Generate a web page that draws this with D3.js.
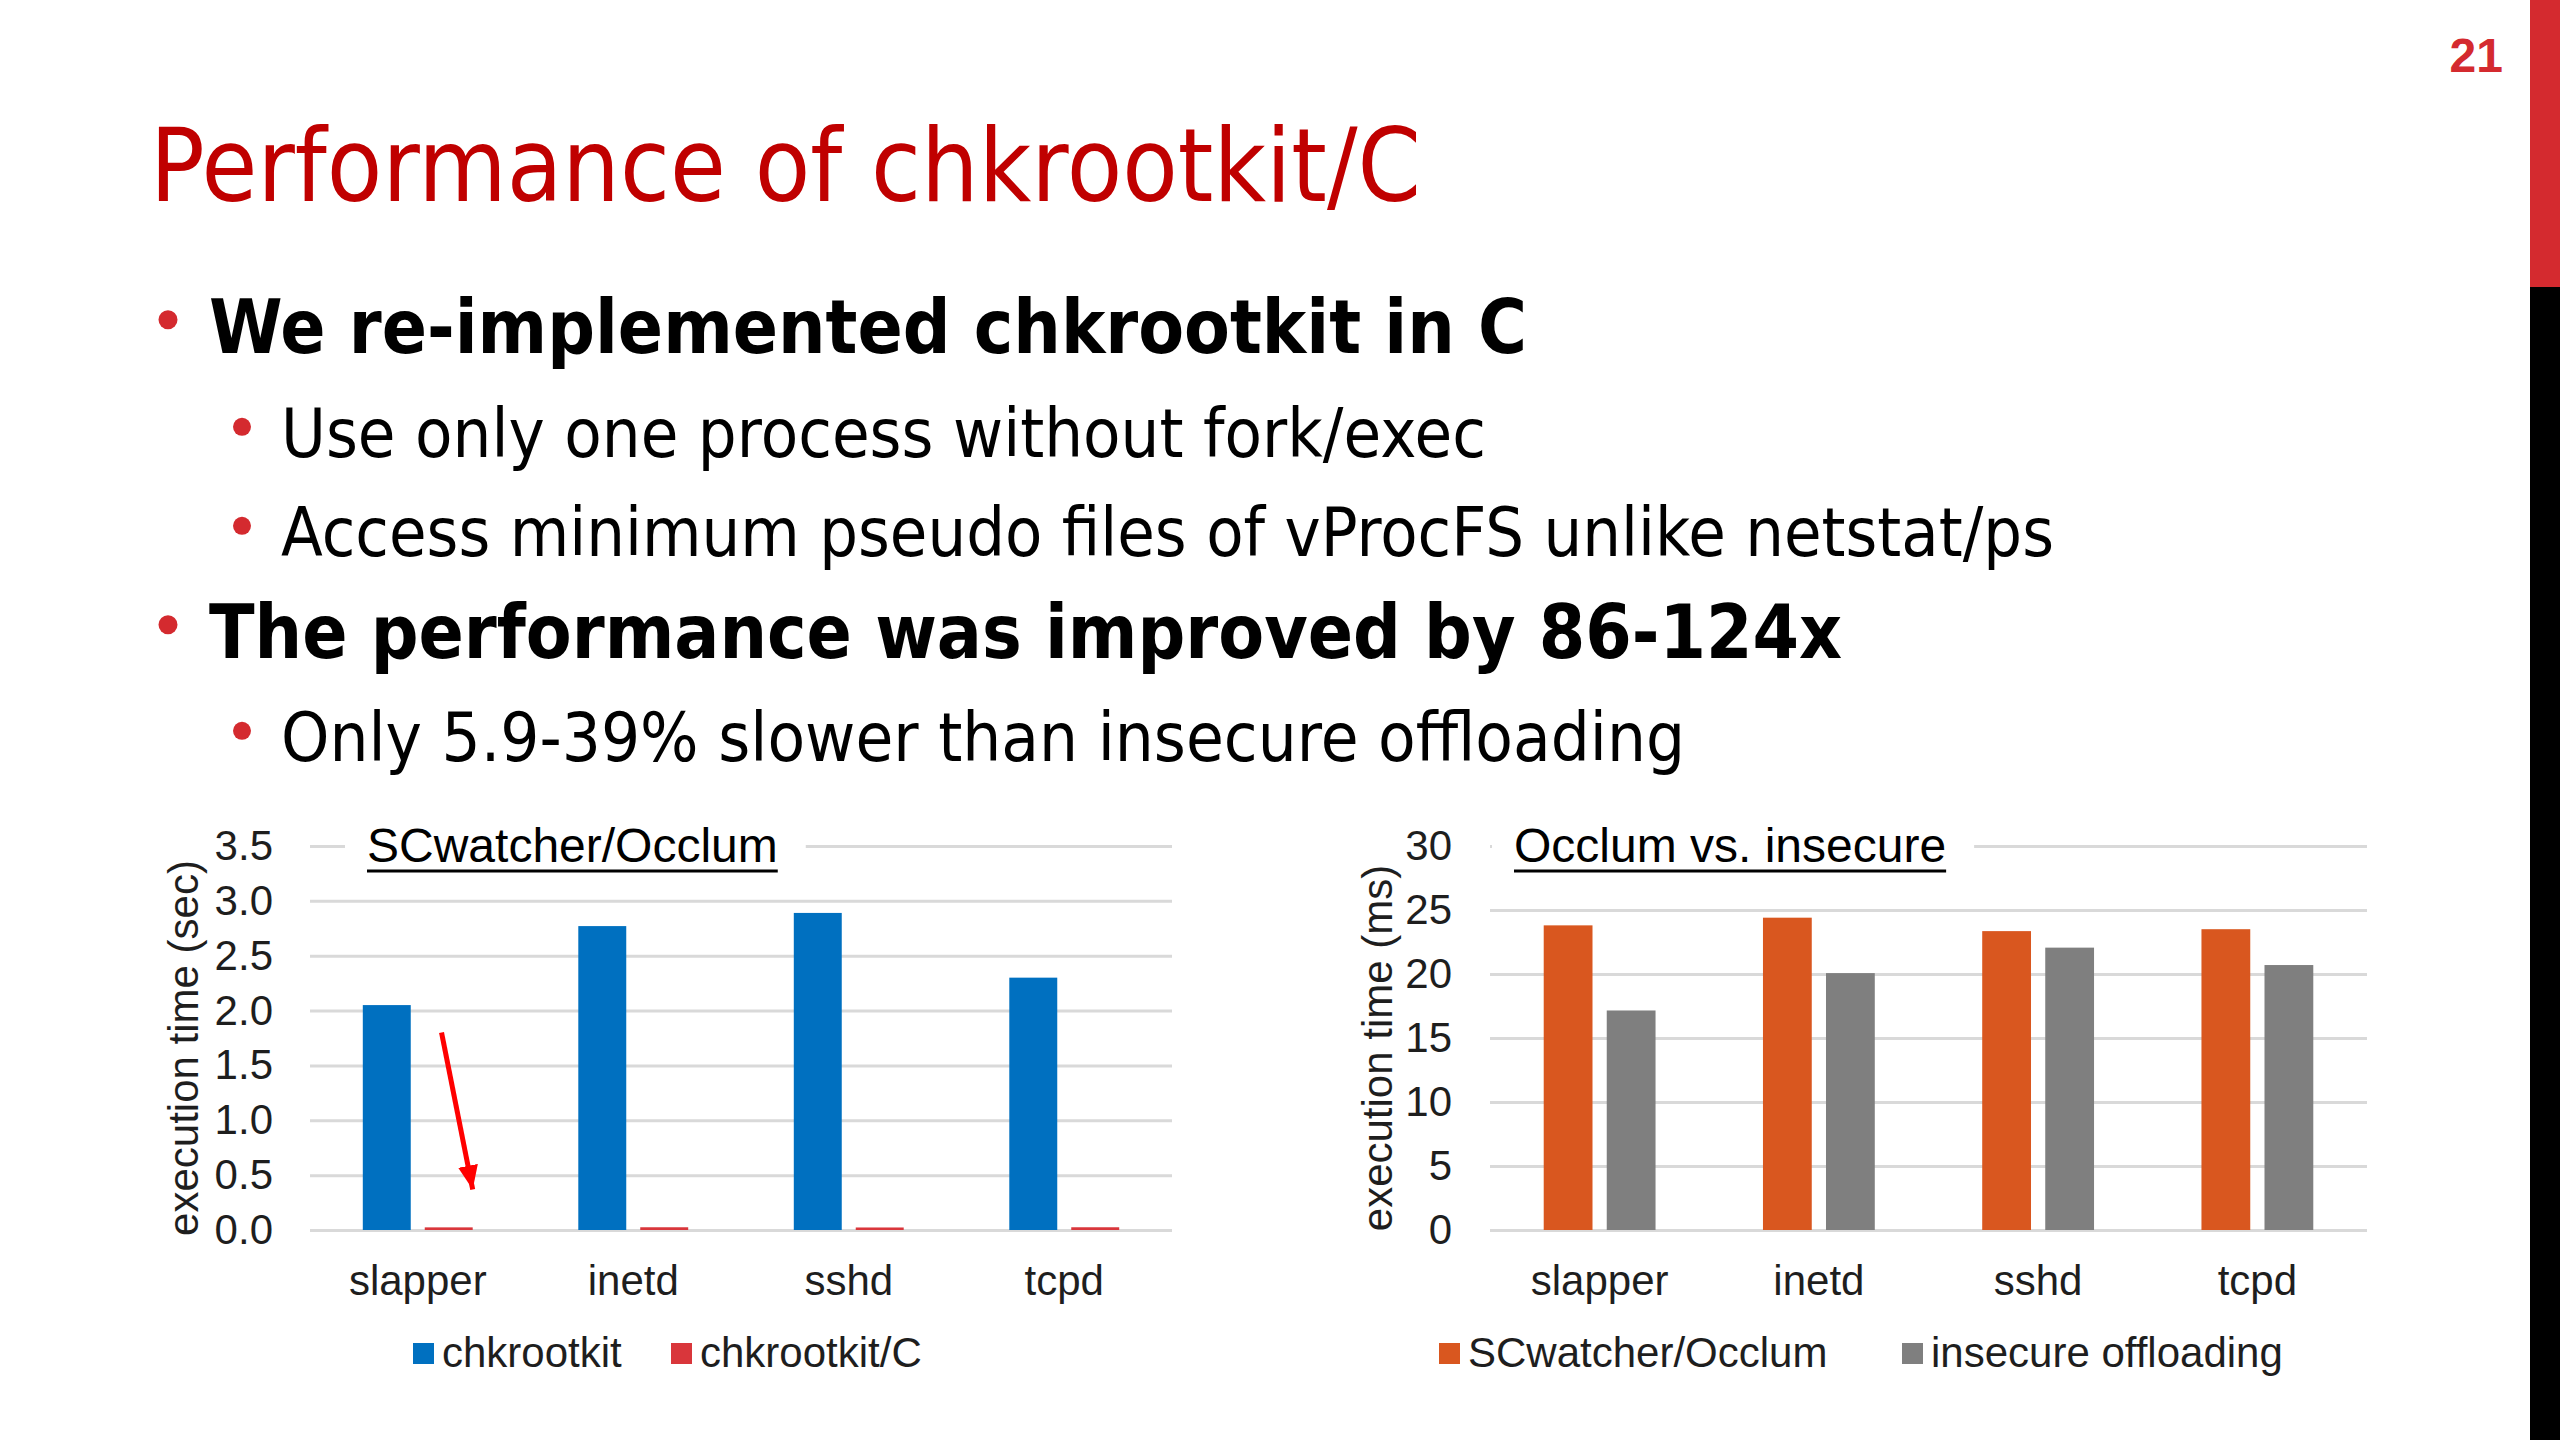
<!DOCTYPE html>
<html>
<head>
<meta charset="utf-8">
<script src="https://cdn.jsdelivr.net/npm/d3@7"></script>
<style>
  html, body { margin: 0; padding: 0; background: #fff; }
  svg { display: block; }
</style>
</head>
<body>
<svg id="slide"></svg>
<script>
// ---- data ----
const categories = ["slapper", "inetd", "sshd", "tcpd"];

const leftSeries = ["chkrootkit", "chkrootkit/C"];
const chkrootkitSec = [2.05, 2.77, 2.89, 2.3];
const chkrootkitCSec = [0.024, 0.025, 0.023, 0.025];
const leftTicks = [0, 0.5, 1.0, 1.5, 2.0, 2.5, 3.0, 3.5];

const rightSeries = ["SCwatcher/Occlum", "insecure offloading"];
const occlumMs = [23.8, 24.4, 23.35, 23.5];
const insecureMs = [17.15, 20.07, 22.06, 20.7];
const rightTicks = [0, 5, 10, 15, 20, 25, 30];

const slideTitle = "Performance of chkrootkit/C";
const bulletTexts = [
  "We re-implemented chkrootkit in C",
  "Use only one process without fork/exec",
  "Access minimum pseudo files of vProcFS unlike netstat/ps",
  "The performance was improved by 86-124x",
  "Only 5.9-39% slower than insecure offloading",
];
const bulletLevels = [0, 1, 1, 0, 1];
const pageNumber = "21";

// ---- layout ----
const W = 2560, H = 1440;
const RED = "#c00000", DOT = "#d42a2f";
const TXT_FONT = '"DejaVu Sans", Verdana, sans-serif';
const CHART_FONT = '"Liberation Sans", Arial, Helvetica, sans-serif';
const INK = "#1e1e1e";

const svg = d3.select("#slide").attr("width", W).attr("height", H)
  .attr("viewBox", [0, 0, W, H]);

svg.append("rect").attr("width", W).attr("height", H).attr("fill", "#fff");

// side strip
svg.append("rect").attr("x", 2530).attr("y", 0).attr("width", 30).attr("height", 287).attr("fill", "#d42a2f");
svg.append("rect").attr("x", 2530).attr("y", 287).attr("width", 30).attr("height", H - 287).attr("fill", "#000");

svg.append("text")
  .attr("x", 2503).attr("y", 72)
  .attr("text-anchor", "end")
  .style("font-family", CHART_FONT).style("font-weight", "bold")
  .style("font-size", "48px").attr("fill", "#d42a2f")
  .text(pageNumber);

// title
svg.append("text")
  .attr("x", 150).attr("y", 201)
  .attr("textLength", 1271).attr("lengthAdjust", "spacingAndGlyphs")
  .style("font-family", TXT_FONT).style("font-size", "102px")
  .attr("fill", RED)
  .text(slideTitle);

// bullets
const bulletRows = [353, 457, 556, 658, 761];
const bulletWidths = [1318, 1205, 1773, 1633, 1404];
const lvl = [
  { dotX: 168, textX: 209, size: 74, weight: "bold", r: 9.5 },
  { dotX: 242, textX: 281, size: 67, weight: "normal", r: 9 },
];
bulletTexts.forEach((t, i) => {
  const L = lvl[bulletLevels[i]];
  const y = bulletRows[i];
  svg.append("circle")
    .attr("cx", L.dotX).attr("cy", y - L.size * 0.45)
    .attr("r", L.r).attr("fill", DOT);
  svg.append("text")
    .attr("x", L.textX).attr("y", y)
    .attr("textLength", bulletWidths[i]).attr("lengthAdjust", "spacingAndGlyphs")
    .style("font-family", TXT_FONT).style("font-size", L.size + "px")
    .style("font-weight", L.weight).attr("fill", "#000")
    .text(t);
});

// ---- charts ----
function drawChart(cfg) {
  const g = svg.append("g");
  const y = d3.scaleLinear().domain([0, cfg.ticks[cfg.ticks.length - 1]]).range([1230, 846]);
  const x0 = d3.scaleBand().domain(categories).range([cfg.left, cfg.right]);
  const bw = x0.bandwidth();
  const groupFrac = 0.51;
  const x1 = d3.scaleBand().domain(cfg.series)
    .range([bw * (1 - groupFrac) / 2, bw * (1 + groupFrac) / 2])
    .paddingInner(0.226);

  // grid + y labels
  const yAxis = d3.axisLeft(y)
    .tickValues(cfg.ticks)
    .tickFormat(cfg.fmt)
    .tickSize(-(cfg.right - cfg.left))
    .tickPadding(cfg.tickPad);
  const ya = g.append("g").attr("transform", `translate(${cfg.left},0)`).call(yAxis);
  ya.select(".domain").remove();
  ya.selectAll(".tick line").attr("stroke", "#d9d9d9").attr("stroke-width", 3);
  ya.selectAll(".tick text")
    .style("font-family", CHART_FONT).style("font-size", "42px").attr("fill", INK);

  // chart title with white backing and underline
  const tg = g.append("g");
  const bg = tg.append("rect").attr("fill", "#fff");
  const tt = tg.append("text")
    .attr("x", cfg.titleX).attr("y", 862)
    .style("font-family", CHART_FONT).style("font-size", "48px").attr("fill", "#000")
    .text(cfg.title);
  const tw = tt.node().getComputedTextLength();
  bg.attr("x", cfg.titleX - 22).attr("y", 820).attr("width", tw + 50).attr("height", 56);
  tg.append("line")
    .attr("x1", cfg.titleX).attr("x2", cfg.titleX + tw)
    .attr("y1", 871).attr("y2", 871)
    .attr("stroke", "#000").attr("stroke-width", 3);

  // bars
  const rows = categories.map((c, i) => ({ cat: c, vals: cfg.values.map(v => v[i]) }));
  const groups = g.append("g").selectAll("g")
    .data(rows).join("g")
    .attr("transform", d => `translate(${x0(d.cat)},0)`);
  groups.selectAll("rect")
    .data(d => cfg.series.map((s, k) => ({ s, k, v: d.vals[k] })))
    .join("rect")
    .attr("x", d => x1(d.s))
    .attr("y", d => y(d.v))
    .attr("width", x1.bandwidth())
    .attr("height", d => y(0) - y(d.v))
    .attr("fill", d => cfg.colors[d.k]);

  // x labels
  const xAxis = d3.axisBottom(x0).tickSize(0).tickPadding(35);
  const xa = g.append("g").attr("transform", `translate(0,${y(0)})`).call(xAxis);
  xa.select(".domain").remove();
  xa.selectAll(".tick text")
    .style("font-family", CHART_FONT).style("font-size", "42px").attr("fill", INK);

  // y axis title
  g.append("text")
    .attr("transform", `translate(${cfg.yTitleX},${(y(0) + y.range()[1]) / 2 + 10}) rotate(-90)`)
    .attr("text-anchor", "middle")
    .style("font-family", CHART_FONT).style("font-size", "42px").attr("fill", INK)
    .text(cfg.yTitle);

  // legend
  const lg = g.append("g");
  cfg.series.forEach((s, k) => {
    const lx = cfg.left + cfg.legendX[k];
    lg.append("rect").attr("x", lx).attr("y", 1343).attr("width", 21).attr("height", 21)
      .attr("fill", cfg.colors[k]);
    lg.append("text").attr("x", lx + 29).attr("y", 1367)
      .style("font-family", CHART_FONT).style("font-size", "42px").attr("fill", INK)
      .text(s);
  });

  return { x0, x1, y, g };
}

const leftChart = drawChart({
  left: 310, right: 1172, tickPad: 37,
  ticks: leftTicks, fmt: d3.format(".1f"),
  series: leftSeries, values: [chkrootkitSec, chkrootkitCSec],
  colors: ["#0070c0", "#d9363b"],
  title: "SCwatcher/Occlum", titleX: 367,
  yTitle: "execution time (sec)", yTitleX: 198,
  legendX: [103, 361],
});

drawChart({
  left: 1490, right: 2367, tickPad: 38,
  ticks: rightTicks, fmt: d3.format("d"),
  series: rightSeries, values: [occlumMs, insecureMs],
  colors: ["#d9571f", "#7f7f7f"],
  title: "Occlum vs. insecure", titleX: 1514,
  yTitle: "execution time (ms)", yTitleX: 1392,
  legendX: [-51, 412],
});

// red arrow pointing at the tiny chkrootkit/C bar (in data coords)
const arrow = { cat: "slapper", series: "chkrootkit/C", from: [0.35, 1.8], to: [1.0, 0.37] };
{
  const { x0, x1, y, g } = leftChart;
  const bx = x0(arrow.cat) + x1(arrow.series), bw = x1.bandwidth();
  svg.append("defs").append("marker")
    .attr("id", "arrowhead")
    .attr("markerUnits", "userSpaceOnUse")
    .attr("viewBox", "0 0 24 20")
    .attr("refX", 24).attr("refY", 10)
    .attr("markerWidth", 24).attr("markerHeight", 20)
    .attr("orient", "auto")
    .append("path").attr("d", "M0,0 L24,10 L0,20 Z").attr("fill", "#ff0000");
  g.append("line")
    .attr("x1", bx + arrow.from[0] * bw).attr("y1", y(arrow.from[1]))
    .attr("x2", bx + arrow.to[0] * bw).attr("y2", y(arrow.to[1]))
    .attr("stroke", "#ff0000").attr("stroke-width", 5)
    .attr("marker-end", "url(#arrowhead)");
}
</script>
</body>
</html>
